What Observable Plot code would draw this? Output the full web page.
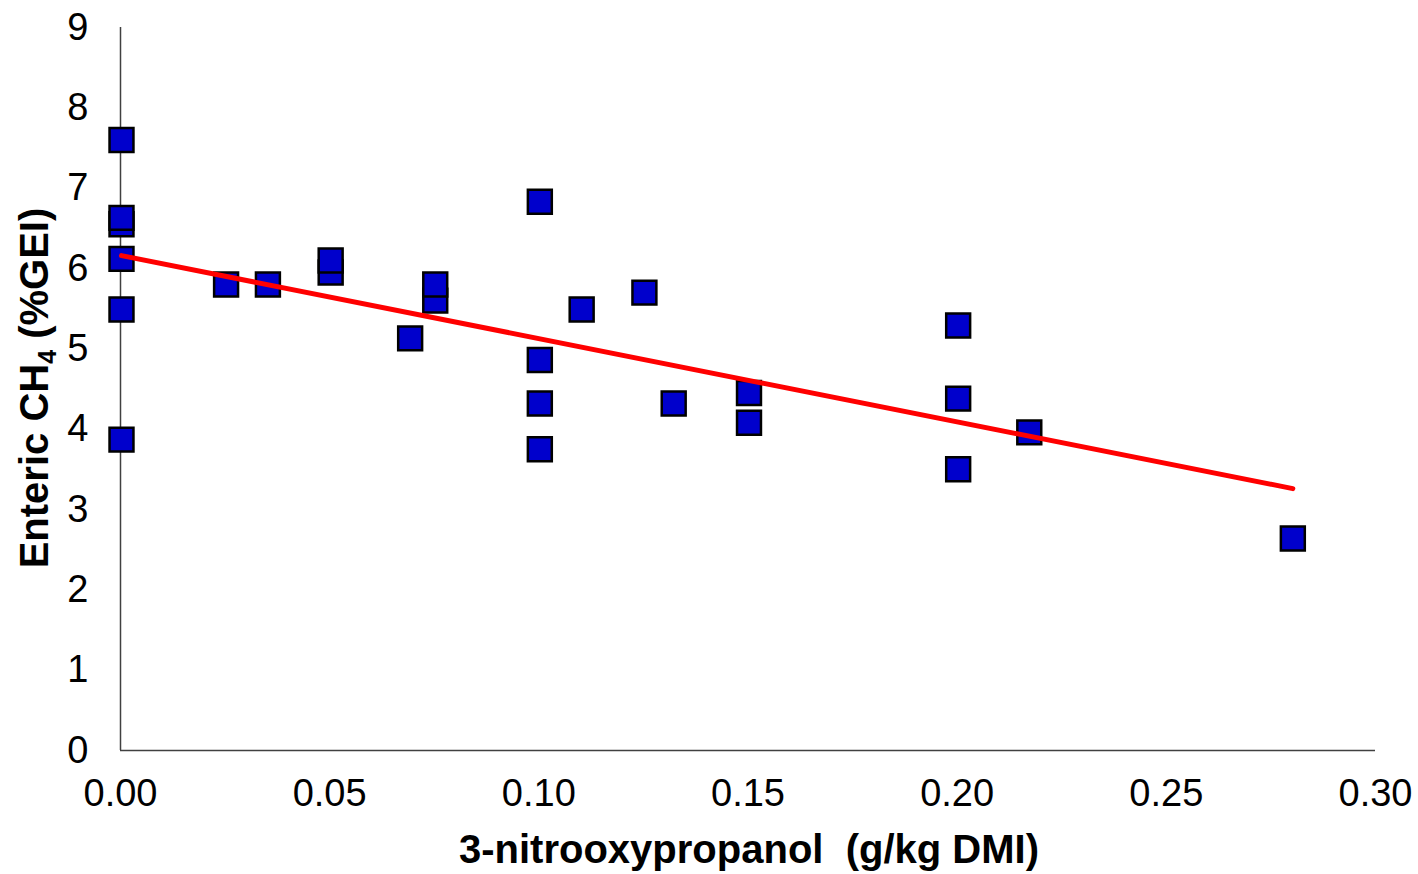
<!DOCTYPE html>
<html><head><meta charset="utf-8">
<script src="https://cdn.jsdelivr.net/npm/d3@7"></script>
<script src="https://cdn.jsdelivr.net/npm/@observablehq/plot@0.6"></script>
<style>html,body{margin:0;padding:0;background:#fff}</style>
</head><body><div id="chart"></div>
<script>
// Data
const doseX = [0, 0, 0, 0, 0, 0, 0.025, 0.035, 0.05, 0.05, 0.069, 0.075, 0.075, 0.10, 0.10, 0.10, 0.10, 0.11, 0.125, 0.132, 0.15, 0.15, 0.20, 0.20, 0.20, 0.217, 0.28];
const ch4   = [3.87, 5.49, 6.12, 6.55, 6.63, 7.60, 5.80, 5.80, 5.95, 6.10, 5.13, 5.60, 5.80, 3.75, 4.32, 4.86, 6.83, 5.49, 5.70, 4.32, 4.08, 4.45, 3.50, 4.38, 5.29, 3.96, 2.64];
const fitX = [0, 0.28];
const fitY = [6.16, 3.26];
const xTicks = [0, 0.05, 0.10, 0.15, 0.20, 0.25, 0.30];
const yTicks = [0, 1, 2, 3, 4, 5, 6, 7, 8, 9];
const xTitle = "3-nitrooxypropanol  (g/kg DMI)";
const yTitleMain = "Enteric CH";
const yTitleSub = "4";
const yTitleEnd = " (%GEI)";

const points = doseX.map((x, i) => ({x, y: ch4[i]}));
const fit = fitX.map((x, i) => ({x, y: fitY[i]}));

const W = 1418, H = 874;
const chart = Plot.plot({
  width: W, height: H,
  marginLeft: 120, marginRight: 43, marginTop: 27, marginBottom: 124,
  x: {domain: [0, 0.30]},
  y: {domain: [0, 9]},
  style: {fontFamily: "'Liberation Sans', Arial, sans-serif", fontSize: "38px", color: "#000", background: "#fff", overflow: "visible"},
  marks: [
    Plot.axisX({ticks: xTicks, tickFormat: d3.format(".2f"), tickSize: 0, tickPadding: 29, label: null, fontSize: 38}),
    Plot.axisY({ticks: yTicks, tickSize: 0, tickPadding: 32, label: null, fontSize: 38}),
    Plot.ruleX([0], {stroke: "#404040", strokeWidth: 1.5}),
    Plot.ruleY([0], {stroke: "#404040", strokeWidth: 1.5}),
    Plot.dot(points, {x: "x", y: "y", symbol: "square", r: 13.5, fill: "#0000CC", stroke: "#000", strokeWidth: 2.5, dx: 1}),
    Plot.line(fit, {x: "x", y: "y", stroke: "#FF0000", strokeWidth: 5, strokeLinecap: "round", dx: 1})
  ]
});
document.getElementById("chart").appendChild(chart);

const svg = d3.select(chart);
svg.append("text")
  .attr("x", 749).attr("y", 863)
  .attr("text-anchor", "middle")
  .attr("font-family", "'Liberation Sans', Arial, sans-serif")
  .attr("font-weight", "bold").attr("font-size", 40).attr("fill", "#000")
  .style("white-space", "pre")
  .text(xTitle);

const yt = svg.append("text")
  .attr("transform", "translate(48,388) rotate(-90)")
  .attr("text-anchor", "middle")
  .attr("font-family", "'Liberation Sans', Arial, sans-serif")
  .attr("font-weight", "bold").attr("font-size", 40).attr("fill", "#000");
yt.append("tspan").text(yTitleMain);
yt.append("tspan").attr("font-size", 25).attr("dy", 8).text(yTitleSub);
yt.append("tspan").attr("dy", -8).text(yTitleEnd);
</script>
</body></html>
